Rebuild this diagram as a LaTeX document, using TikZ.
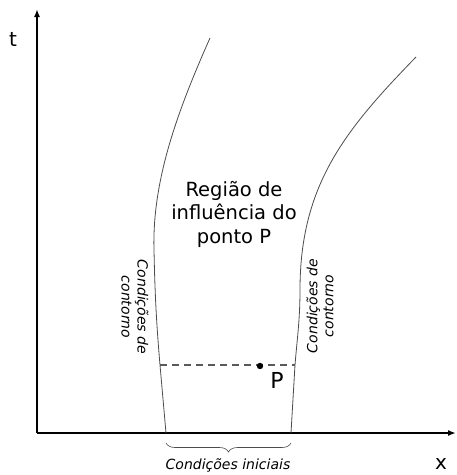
\documentclass[tikz,border=0pt]{standalone}
\usepackage{fontspec}
\setmainfont{DejaVu Sans}
\usetikzlibrary{arrows.meta,decorations.pathreplacing}

\begin{document}
\begin{tikzpicture}[x=1pt,y=-1pt,
  axis/.style={line width=1.6pt,-{Latex[length=8pt,width=6pt]}},
  border/.style={line width=0.8pt,black!70},
  lbl/.style={inner sep=0pt,align=center}]

\useasboundingbox (0,0) rectangle (457,475);

% Define points
\coordinate (O) at (37,433);
\coordinate (T) at (37,9);
\coordinate (X) at (456,433);
\coordinate (L0) at (166,433);
\coordinate (R0) at (291,433);
\coordinate (L1) at (160,365);
\coordinate (R1) at (295,365);

% Axes
\draw[axis] (O) -- (T);
\draw[axis] (O) -- (X);
\node[lbl,font=\fontsize{20}{22}\selectfont] (t) at (13,39) {t};
\node[lbl,font=\fontsize{20}{22}\selectfont] (x) at (441,464) {x};

% Borders of the region
\draw[border] (210,38) .. controls (178,110) and (152,180) .. (154,250)
  .. controls (155,300) and (157,330) .. (L1) -- (L0);
\draw[border] (416,57) .. controls (345,130) and (300,185) .. (300,290)
  .. controls (300,320) and (297,340) .. (R1) -- (R0);

% Point P
\draw[line width=1.2pt,black!65,dash pattern=on 7pt off 5pt] (L1) -- (R1);
\fill (260,366) circle (3.2pt) coordinate (P);
\node[lbl,font=\fontsize{22}{24}\selectfont] (Plbl) at (277,380) {P};

% Region label
\node[lbl,font=\fontsize{19.5}{23.5}\selectfont] (reg) at (234,214) {Região de\\influência do\\ponto P};

% Boundary conditions
\node[lbl,rotate=-90,font=\fontsize{14}{16}\selectfont\itshape] (cl) at (135,307) {Condições de\\contorno};
\node[lbl,rotate=90,font=\fontsize{14}{16}\selectfont\itshape] (cr) at (320,306) {Condições de\\contorno};

% Initial conditions
\draw[border,line width=0.6pt,decorate,decoration={brace,mirror,amplitude=9pt}] ([yshift=-10pt]L0) -- ([yshift=-10pt]R0);
\node[lbl,font=\fontsize{14}{16}\selectfont\itshape] (ini) at (228,465) {Condições iniciais};

\end{tikzpicture}
\end{document}
